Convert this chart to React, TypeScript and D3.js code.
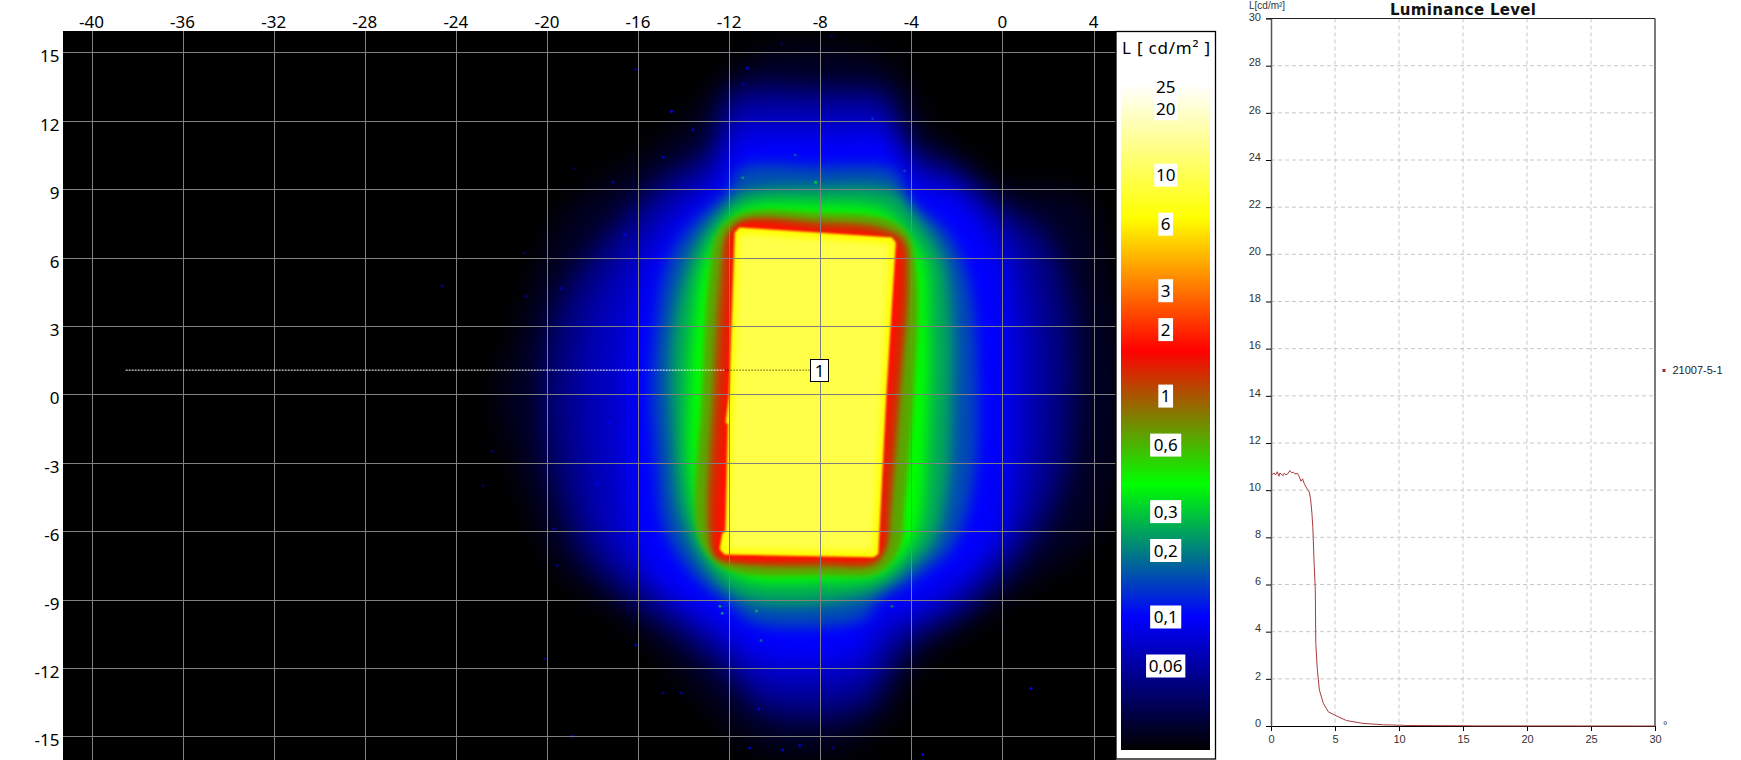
import React, { useEffect, useRef } from 'react';
import * as d3 from 'd3';

type Pt = [number, number];

// Luminance map axes (degrees)
const mapXTicks = [-40, -36, -32, -28, -24, -20, -16, -12, -8, -4, 0, 4];
const mapYTicks = [-15, -12, -9, -6, -3, 0, 3, 6, 9, 12, 15];

// Colour key
const keyStops = [0.025, 0.1, 0.4, 1.6, 6.4, 25.6];
const keyColors = ['#000000', '#0000ff', '#00ff00', '#ff0000', '#ffff00', '#ffffff'];
const keyLabels: [number, string][] = [
  [25, '25'], [20, '20'], [10, '10'], [6, '6'], [3, '3'], [2, '2'], [1, '1'],
  [0.6, '0,6'], [0.3, '0,3'], [0.2, '0,2'], [0.1, '0,1'], [0.06, '0,06'],
];

// Iso-luminance outlines, [x deg, y deg]
const iso003: Pt[] = [[-8, 15.3], [-4.8, 14.4], [-3.4, 12], [0, 9.2], [3.5, 8.7], [4.7, 4.3], [5.4, 0], [4.8, -3.7], [4, -6.2], [0, -9.1], [-3.8, -12], [-5.2, -14.4], [-7.7, -15.8], [-10.4, -15.6], [-12.2, -14.4], [-16, -10.3], [-19.6, -7.4], [-21.4, -3], [-22.2, 0], [-21.8, 1.3], [-20.8, 4.3], [-19.2, 8], [-16, 10.3], [-14, 11.9], [-12, 14], [-10.5, 15]];
const iso005: Pt[] = [[-8, 13.5], [-5, 13.2], [-4.2, 11], [-2, 10], [0, 8.3], [2, 7], [3, 4], [3.2, 0], [2.7, -4], [1, -7], [-1.5, -9.5], [-4, -11], [-5, -12.5], [-6, -13.8], [-8, -14.3], [-10.5, -14], [-12, -12.5], [-14, -10.8], [-16.5, -9], [-18.5, -7], [-19.8, -3.5], [-20.2, 0], [-19.5, 4], [-17.5, 7], [-15, 9.5], [-12.8, 11], [-12, 13.3]];
const iso007: Pt[] = [[-8, 12.7], [-4.9, 12.4], [-4.1, 10.4], [-2, 9.4], [-0.3, 7.9], [1, 6], [1.6, 3], [1.7, 0], [1.4, -4], [0.3, -6.6], [-1.8, -9], [-4, -10.3], [-5.1, -11.2], [-6, -12.6], [-8, -13.1], [-10.8, -12.8], [-12, -11.5], [-14, -9.8], [-16, -8.2], [-17.7, -6.2], [-18.4, -3], [-18.6, 0], [-18.1, 3.5], [-16.5, 6.5], [-14.5, 8.8], [-12.6, 10.2], [-12, 12.3]];
const iso010: Pt[] = [[-8, 11.4], [-4.6, 11.2], [-4, 9.4], [-2, 8.8], [-0.5, 7], [0.2, 5], [0.4, 0], [0.3, -4], [-0.2, -6.5], [-2, -8.3], [-4, -9.5], [-5.4, -10], [-6, -11.2], [-8, -11.8], [-11, -11.4], [-12, -10.5], [-13, -9.8], [-15, -8.5], [-16.2, -6.5], [-16.6, -3], [-16.6, 0], [-16.4, 3], [-15.5, 6], [-14, 8], [-12.5, 9.3], [-12, 11], [-11.5, 11.3]];
const iso015: Pt[] = [[-8, 10], [-4.7, 9.8], [-4.1, 8.5], [-2.5, 7.2], [-1.5, 5], [-1.1, 0], [-1.3, -4], [-2.2, -6.7], [-4, -8.2], [-5.4, -9], [-6, -9.8], [-8, -10.2], [-11, -10], [-12, -9.2], [-13.5, -8], [-14.8, -6], [-15.2, -3], [-15.4, 0], [-15.2, 3], [-14.6, 6], [-13.3, 7.8], [-12.1, 8.8], [-11.5, 9.9]];
const iso025: Pt[] = [[-8, 9.1], [-4.7, 8.9], [-3.6, 7.6], [-2.6, 6], [-2.2, 3], [-2.2, 0], [-2.4, -4], [-3, -6.5], [-4.3, -7.8], [-5.4, -8.6], [-8, -9.2], [-11, -9.1], [-12.3, -8.4], [-13.4, -7], [-14.2, -5], [-14.5, -2], [-14.6, 1], [-14.3, 4], [-13.6, 6.3], [-12.6, 7.8], [-11.5, 8.8]];
const iso040: Pt[] = [[-8, 8.35], [-5.3, 8.1], [-4.3, 7.2], [-3.4, 5.8], [-3.2, 3], [-3.2, 0], [-3.4, -4], [-3.7, -6], [-4.5, -7.2], [-5.5, -8], [-8, -8.25], [-11, -8.2], [-12.3, -7.5], [-13.2, -6.2], [-13.8, -3], [-13.8, 0], [-13.6, 3], [-13.2, 5.5], [-12.4, 7.2], [-11.3, 8.2]];
const iso065: Pt[] = [[-8, 7.95], [-5.3, 7.75], [-4.2, 7.1], [-3.75, 5], [-3.9, 0], [-4.3, -5], [-4.5, -6.7], [-5.4, -7.8], [-8, -7.95], [-11.5, -7.85], [-12.7, -7.3], [-13.4, -6], [-13.2, 0], [-12.9, 5], [-12.5, 7.1], [-11.4, 7.95]];
const iso100: Pt[] = [[-8, 7.62], [-5.4, 7.38], [-4.3, 6.8], [-4.1, 5], [-4.45, 0], [-4.85, -5], [-5.05, -6.7], [-5.6, -7.48], [-8, -7.58], [-11.5, -7.48], [-12.6, -7.2], [-12.95, -6], [-12.75, 0], [-12.45, 5], [-12.15, 7], [-11.4, 7.66]];
const iso130: Pt[] = [[-8, 7.42], [-5.5, 7.2], [-4.45, 6.7], [-4.25, 5], [-4.6, 0], [-5, -5], [-5.15, -6.75], [-5.65, -7.35], [-8, -7.42], [-11.7, -7.38], [-12.6, -7.1], [-12.8, -6], [-12.5, 0], [-12.2, 5], [-12.03, 7], [-11.4, 7.6]];
const iso200: Pt[] = [[-8, 7.2], [-5.5, 7], [-4.6, 6.55], [-4.5, 5], [-4.9, 0], [-5.3, -5], [-5.35, -6.8], [-5.75, -7.2], [-8, -7.26], [-11.9, -7.22], [-12.55, -6.95], [-12.55, -6], [-12.2, 0], [-11.95, 5], [-11.85, 7], [-11.4, 7.45]];
const iso640: Pt[] = [[-11.55, 7.32], [-4.85, 6.88], [-4.68, 6.65], [-5.1, 0], [-5.45, -7.0], [-5.65, -7.15], [-12.2, -7.03], [-12.42, -6.8], [-12.3, -6.1], [-12.15, -6], [-12.05, -1.3], [-12.15, -1.25], [-12, 0], [-11.75, 7.1]];
const iso950: Pt[] = [[-11.35, 7.05], [-4.95, 6.6], [-5.3, 0], [-5.7, -6.85], [-12.05, -6.8], [-11.8, 0], [-11.55, 6.9]];

const glowLevels: [number, Pt[]][] = [[0.03, iso003], [0.05, iso005], [0.07, iso007], [0.1, iso010]];
const haloLevels: [number, Pt[]][] = [[0.15, iso015], [0.25, iso025], [0.4, iso040]];
const rimLevels: [number, Pt[]][] = [[0.65, iso065], [1.0, iso100], [1.3, iso130], [1.75, iso200]];
const panelLevels: [number, Pt[]][] = [[6.4, iso640], [9.5, iso950]];

// Stray bright specks on the map: x deg, y deg, luminance
const specks: [number, number, number][] = [
  [-14.53, 12.4, 0.1], [-11.2, 14.3, 0.08], [-11.4, 13.6, 0.06], [-16.1, 14.25, 0.05], [-9.7, 15.4, 0.04], [-7.5, 15.7, 0.04],
  [-13.6, 11.6, 0.07], [-14.9, 10.4, 0.07], [-17.1, 9.3, 0.06], [-16.6, 7, 0.09], [-19.4, 4.65, 0.07], [-20.9, 4.3, 0.05],
  [-21, 6.2, 0.04], [-17.3, 5, 0.07], [-5.7, 12.1, 0.12], [-8.2, 9.3, 0.3], [-11.4, 9.5, 0.22], [-9.1, 10.5, 0.16],
  [-4.3, 9.8, 0.14], [-18.8, 9.9, 0.04], [-24.6, 4.75, 0.05], [1.25, -12.9, 0.09], [-18.9, -15, 0.09], [-11.1, -15.5, 0.07],
  [-9.65, -15.6, 0.08], [-8.9, -15.4, 0.08], [-3.5, -15.8, 0.08], [-7.45, -15.5, 0.05], [-14.1, -13.1, 0.06], [-14.9, -13.1, 0.05],
  [-20.1, -11.6, 0.05], [-16.1, -11, 0.06], [-22.4, -2.5, 0.05], [-17.3, -1.25, 0.1], [-17.8, -3.9, 0.09], [-19.7, -5.9, 0.06],
  [-19.55, -7.5, 0.05], [-22.8, -4, 0.04], [-10.7, -13.8, 0.09], [-4.85, -9.3, 0.18], [-10.8, -9.5, 0.25], [-12.4, -9.3, 0.22],
  [-12.3, -9.6, 0.22], [-10.6, -10.8, 0.17],
];

// Measuring line on the map
const scanLineDark: Pt[] = [[-38.5, 1.06], [-12.2, 1.06]];
const scanLineBright: Pt[] = [[-12.2, 1.06], [-8.45, 1.06]];
const scanLabel = '1';

// Luminance profile chart
const profileTitle = 'Luminance Level';
const profileName = '21007-5-1';
const profileXTicks = [0, 5, 10, 15, 20, 25, 30];
const profileYTicks = [0, 2, 4, 6, 8, 10, 12, 14, 16, 18, 20, 22, 24, 26, 28, 30];
const profileAngle = [0, 0.13, 0.26, 0.36, 0.49, 0.62, 0.7, 0.83, 0.96, 1.04, 1.17, 1.3, 1.48, 1.61, 1.74, 1.87, 2.08, 2.21, 2.34, 2.47, 2.6, 2.73, 2.86, 2.99, 3.1, 3.2, 3.27, 3.37, 3.46, 3.5, 3.62, 3.78, 4.09, 4.48, 4.95, 5.9, 7.2, 8.8, 10.3, 10.6, 15, 16, 30];
const profileLum = [10.64, 10.68, 10.72, 10.64, 10.78, 10.59, 10.73, 10.66, 10.62, 10.72, 10.65, 10.69, 10.83, 10.74, 10.76, 10.69, 10.71, 10.57, 10.38, 10.48, 10.28, 10.14, 10.03, 9.92, 9.6, 9, 8.4, 6.9, 5.8, 3.5, 2.38, 1.53, 0.96, 0.6, 0.47, 0.23, 0.11, 0.05, 0.03, 0.02, 0.01, 0.005, 0];

const FONT = '"Noto Sans", sans-serif';
const SMALL_FONT = '"Liberation Sans", sans-serif';

const App: React.FC = () => {
  const svgRef = useRef<SVGSVGElement>(null);

  useEffect(() => {
    if (!svgRef.current) return;
    const svg = d3.select(svgRef.current);
    svg.selectAll('*').remove();

    const panel = { left: 63, top: 31, right: 1116, bottom: 760 };
    const x = d3.scaleLinear().domain([-40, 4]).range([91.5, 1093.5]);
    const y = d3.scaleLinear().domain([-15, 15]).range([736.3, 52.3]);
    const colour = d3.scaleLog<string>().domain(keyStops).range(keyColors).clamp(true);
    const keyY = d3.scaleLog().domain([0.025, 25.6]).range([750, 85]);

    const smooth = d3.line<Pt>().x(d => x(d[0])).y(d => y(d[1])).curve(d3.curveCatmullRomClosed.alpha(0.5));
    const sharp = d3.line<Pt>().x(d => x(d[0])).y(d => y(d[1])).curve(d3.curveLinearClosed);

    const defs = svg.append('defs');
    defs.append('clipPath').attr('id', 'panel-clip').append('rect')
      .attr('x', panel.left).attr('y', panel.top)
      .attr('width', panel.right - panel.left).attr('height', panel.bottom - panel.top);

    const blurs: [string, number][] = [['blur-glow', 13], ['blur-halo', 7], ['blur-rim', 2.6], ['blur-panel', 0.9], ['blur-fill', 3]];
    blurs.forEach(([id, amount]) => {
      defs.append('filter').attr('id', id)
        .attr('filterUnits', 'userSpaceOnUse')
        .attr('x', 0).attr('y', 0).attr('width', 1300).attr('height', 860)
        .attr('color-interpolation-filters', 'sRGB')
        .append('feGaussianBlur').attr('stdDeviation', amount);
    });

    const grad = defs.append('linearGradient').attr('id', 'key-grad')
      .attr('x1', 0).attr('y1', 0).attr('x2', 0).attr('y2', 1);
    keyStops.slice().reverse().forEach((v, i) => {
      grad.append('stop').attr('offset', `${i * 20}%`).attr('stop-color', colour(v));
    });

    // Map background
    svg.append('rect')
      .attr('x', panel.left).attr('y', panel.top)
      .attr('width', panel.right - panel.left).attr('height', panel.bottom - panel.top)
      .attr('fill', '#000');

    const map = svg.append('g').attr('clip-path', 'url(#panel-clip)');

    const drawLevels = (levels: [number, Pt[]][], filter: string, path: any) => {
      const g = map.append('g').attr('filter', `url(#${filter})`);
      levels.forEach(([lum, pts]) => {
        g.append('path').attr('d', path(pts)).attr('fill', colour(lum));
      });
    };
    drawLevels(glowLevels, 'blur-glow', smooth);
    drawLevels(haloLevels, 'blur-halo', smooth);
    drawLevels(rimLevels, 'blur-rim', smooth);
    drawLevels(panelLevels.slice(0, 1), 'blur-panel', sharp);
    drawLevels(panelLevels.slice(1), 'blur-fill', sharp);

    map.append('g').selectAll('circle').data(specks).enter().append('circle')
      .attr('cx', d => x(d[0])).attr('cy', d => y(d[1]))
      .attr('r', 1.5).attr('fill', d => colour(d[2]));

    // Grid
    map.append('g').selectAll('line').data(mapXTicks).enter().append('line')
      .attr('x1', d => Math.round(x(d)) + 0.5).attr('x2', d => Math.round(x(d)) + 0.5)
      .attr('y1', panel.top).attr('y2', panel.bottom)
      .attr('stroke', '#808080').attr('stroke-width', 1);
    map.append('g').selectAll('line').data(mapYTicks).enter().append('line')
      .attr('y1', d => Math.round(y(d)) + 0.5).attr('y2', d => Math.round(y(d)) + 0.5)
      .attr('x1', panel.left).attr('x2', panel.right)
      .attr('stroke', '#808080').attr('stroke-width', 1);

    // Axis labels
    svg.append('g').selectAll('text').data(mapXTicks).enter().append('text')
      .attr('x', d => x(d)).attr('y', 28)
      .attr('text-anchor', 'middle')
      .style('font', `17px ${FONT}`).attr('fill', '#000')
      .text(d => d);
    svg.append('g').selectAll('text').data(mapYTicks).enter().append('text')
      .attr('x', 59.5).attr('y', d => y(d) + 10)
      .attr('text-anchor', 'end')
      .style('font', `17px ${FONT}`).attr('fill', '#000')
      .text(d => d);

    // Measuring line and marker
    const scanPath = d3.line<Pt>().x(d => x(d[0])).y(d => y(d[1]));
    map.append('path').attr('d', scanPath(scanLineDark))
      .attr('fill', 'none').attr('stroke', '#fff').attr('stroke-width', 1).attr('stroke-dasharray', '2 1');
    map.append('path').attr('d', scanPath(scanLineBright))
      .attr('fill', 'none').attr('stroke', '#000').attr('stroke-width', 1).attr('stroke-dasharray', '1 2');
    svg.append('rect').attr('x', 810.5).attr('y', 359.5).attr('width', 18).attr('height', 22)
      .attr('fill', '#fff').attr('stroke', '#000').attr('stroke-width', 1);
    svg.append('text').attr('x', 819.5).attr('y', 376.5).attr('text-anchor', 'middle')
      .style('font', `17px ${FONT}`).attr('fill', '#000').text(scanLabel);

    // Colour key
    const keyBox = svg.append('g');
    keyBox.append('rect').attr('x', 1116).attr('y', 31.5).attr('width', 99.5).attr('height', 727.5)
      .attr('fill', '#fff').attr('stroke', '#000').attr('stroke-width', 1.3);
    keyBox.append('rect').attr('x', 1121).attr('y', keyY(25.6)).attr('width', 89)
      .attr('height', keyY(0.025) - keyY(25.6)).attr('fill', 'url(#key-grad)');
    keyBox.append('text').attr('x', 1122).attr('y', 54).attr('textLength', 88)
      .style('font', `17px ${FONT}`).attr('fill', '#000').text('L [ cd/m² ]');
    keyLabels.forEach(([v, label]) => {
      const w = label.length * 8.2 + 6.5;
      keyBox.append('rect').attr('x', 1165.7 - w / 2).attr('y', keyY(v) - 11.5)
        .attr('width', w).attr('height', 23).attr('fill', '#fff');
      keyBox.append('text').attr('x', 1165.7).attr('y', keyY(v) + 6)
        .attr('text-anchor', 'middle')
        .style('font', `17px ${FONT}`).attr('fill', '#000').text(label);
    });

    // Profile chart
    const px = d3.scaleLinear().domain([0, 30]).range([1271, 1655]);
    const py = d3.scaleLinear().domain([0, 30]).range([726, 18.5]);
    const chart = svg.append('g');

    chart.append('g').selectAll('line').data(profileXTicks.slice(1, -1)).enter().append('line')
      .attr('x1', d => px(d)).attr('x2', d => px(d)).attr('y1', py(30)).attr('y2', py(0))
      .attr('stroke', '#c8c8c8').attr('stroke-dasharray', '4 3');
    chart.append('g').selectAll('line').data(profileYTicks.slice(1, -1)).enter().append('line')
      .attr('x1', px(0)).attr('x2', px(30)).attr('y1', d => py(d)).attr('y2', d => py(d))
      .attr('stroke', '#c8c8c8').attr('stroke-dasharray', '4 3');

    const xAxis = chart.append('g').attr('transform', `translate(0,${py(0)})`)
      .call(d3.axisBottom(px).tickValues(profileXTicks).tickSize(5).tickSizeOuter(0));
    const yAxis = chart.append('g').attr('transform', `translate(${px(0)},0)`)
      .call(d3.axisLeft(py).tickValues(profileYTicks).tickSize(5).tickSizeOuter(0));
    xAxis.select('.domain').attr('stroke', '#000').attr('stroke-width', 1.2);
    yAxis.select('.domain').attr('stroke', '#555').attr('stroke-width', 1.5);
    xAxis.selectAll('text').attr('y', 9).attr('dy', '0.7em').style('font', `11px ${SMALL_FONT}`).attr('fill', '#333');
    yAxis.selectAll('text').attr('x', -10).attr('dy', '0.02em').style('font', `11px ${SMALL_FONT}`).attr('fill', '#333');
    yAxis.selectAll<SVGTextElement, number>('text').filter(d => d === 30).attr('dy', '0.2em');

    chart.append('line').attr('x1', px(0) - 5).attr('x2', px(30)).attr('y1', py(30)).attr('y2', py(30))
      .attr('stroke', '#222').attr('stroke-width', 1.2);
    chart.append('line').attr('x1', px(30)).attr('x2', px(30)).attr('y1', py(30)).attr('y2', py(0))
      .attr('stroke', '#222').attr('stroke-width', 1.2);

    const profile = d3.line<number>()
      .x(d => px(d))
      .y((_, i) => py(profileLum[i]));
    chart.append('path').attr('d', profile(profileAngle))
      .attr('fill', 'none').attr('stroke', '#a83c3c').attr('stroke-width', 1);

    chart.append('text').attr('x', px(15)).attr('y', 14.5).attr('text-anchor', 'middle').attr('textLength', 146)
      .style('font', `bold 15px "DejaVu Sans", sans-serif`).attr('fill', '#111').text(profileTitle);
    chart.append('text').attr('x', 1249).attr('y', 9.3)
      .style('font', `10px ${SMALL_FONT}`).attr('fill', '#333').text('L[cd/m²]');
    chart.append('text').attr('x', 1663).attr('y', 729)
      .style('font', `11px ${SMALL_FONT}`).attr('fill', '#333').text('°');

    chart.append('rect').attr('x', 1662.5).attr('y', 369).attr('width', 3).attr('height', 3).attr('fill', '#b02a2a');
    chart.append('text').attr('x', 1672.5).attr('y', 374)
      .style('font', `11px ${SMALL_FONT}`).attr('fill', '#222').text(profileName);
  }, []);

  return (
    <svg
      ref={svgRef}
      width={1741}
      height={760}
      style={{ position: 'absolute', left: 0, top: 0, display: 'block', background: '#fff' }}
    />
  );
};

export default App;
